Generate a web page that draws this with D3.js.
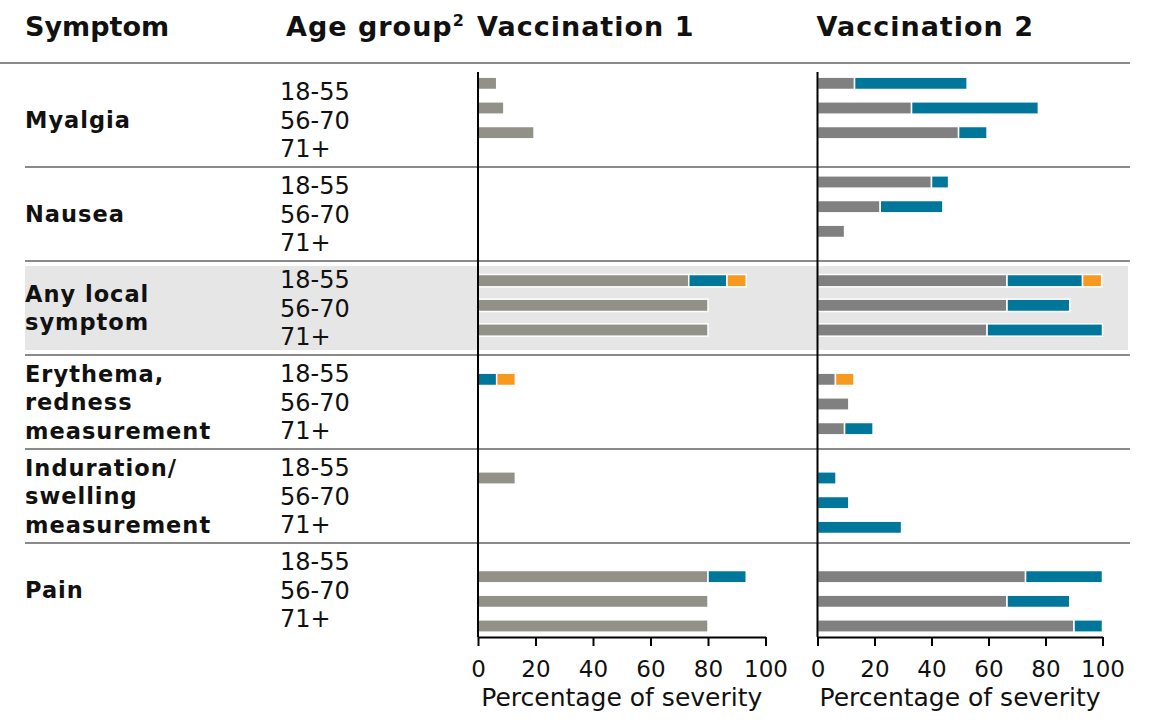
<!DOCTYPE html>
<html>
<head>
<meta charset="utf-8">
<script src="https://cdn.jsdelivr.net/npm/d3@7"></script>
<style>
  body { margin: 0; background: #fff; }
  text { font-family: "DejaVu Sans", sans-serif; fill: #111; }
</style>
</head>
<body>
<div id="wrapper"></div>
<script>
// data (percent of participants, stacked by severity)
const symptoms = ["Myalgia", "Nausea", "Any local symptom", "Erythema, redness measurement", "Induration/ swelling measurement", "Pain"]
const symptomLines = [["Myalgia"], ["Nausea"], ["Any local", "symptom"], ["Erythema,", "redness", "measurement"], ["Induration/", "swelling", "measurement"], ["Pain"]]
const ageGroups = ["18-55", "56-70", "71+"]
const severities = ["mild", "moderate", "severe"]
const highlighted = "Any local symptom"
const tickValues = [0, 20, 40, 60, 80, 100]
const panelTitles = ["Vaccination 1", "Vaccination 2"]

// one value per symptom x age group, in the order above
const dose1Mild     = [6.5, 9, 19.5,  0, 0, 0,  73.3, 80, 80,  0, 0, 0,  13, 0, 0,  80, 80, 80]
const dose1Moderate = [0, 0, 0,  0, 0, 0,  13.3, 0, 0,  6.5, 0, 0,  0, 0, 0,  13.3, 0, 0]
const dose1Severe   = [0, 0, 0,  0, 0, 0,  6.7, 0, 0,  6.5, 0, 0,  0, 0, 0,  0, 0, 0]

const dose2Mild     = [13, 33, 49.5,  40, 22, 9.5,  66.5, 66.5, 59.5,  6.3, 11, 9.5,  0, 0, 0,  73, 66.5, 90]
const dose2Moderate = [39.5, 44.5, 10,  6, 22, 0,  26.5, 22, 40.5,  0, 0, 10,  6.5, 11, 29.5,  27, 22, 10]
const dose2Severe   = [0, 0, 0,  0, 0, 0,  6.7, 0, 0,  6.5, 0, 0,  0, 0, 0,  0, 0, 0]

function drawChart() {

  // 1. Access data
  const toRows = (mild, moderate, severe) => mild.map((m, i) => ({
    symptom: symptoms[Math.floor(i / 3)],
    age: ageGroups[i % 3],
    slot: Math.floor(i / 3) * 4 + i % 3,
    mild: m, moderate: moderate[i], severe: severe[i],
  }))
  const panels = [
    { title: panelTitles[0], rows: toRows(dose1Mild, dose1Moderate, dose1Severe), mildColor: "#919187" },
    { title: panelTitles[1], rows: toRows(dose2Mild, dose2Moderate, dose2Severe), mildColor: "#808080" },
  ]

  // 2. Create chart dimensions
  const dimensions = {
    width: 1150,
    height: 727,
    headerY: 36,
    ruleY: 63,
    plotTop: 73,
    plotBottom: 637,
    lineLeft: 25,
    lineRight: 1130,
  }

  // 3. Draw canvas
  const wrapper = d3.select("#wrapper")
    .append("svg")
      .attr("width", dimensions.width)
      .attr("height", dimensions.height)

  // 4. Create scales
  const groupScale = d3.scaleBand()
    .domain(symptoms)
    .range([dimensions.plotTop, dimensions.plotBottom])

  // bars sit on 24 slots: 3 age rows + one empty slot per symptom
  const slotScale = d3.scaleBand()
    .domain(d3.range(24))
    .range([71, 663])
    .paddingInner(0.5)
    .paddingOuter(0.25)

  const xScales = [
    d3.scaleLinear().domain([0, 100]).range([478, 765.5]),
    d3.scaleLinear().domain([0, 100]).range([817.5, 1102.5]),
  ]

  const sevColor = { moderate: "#00779a", severe: "#f7991f" }

  const groupMid = s => groupScale(s) + groupScale.bandwidth() / 2

  // 5. Draw peripherals (background, rules, labels)
  wrapper.append("rect")
    .attr("x", dimensions.lineLeft)
    .attr("y", groupScale(highlighted) + 5)
    .attr("width", 1128 - dimensions.lineLeft)
    .attr("height", groupScale.bandwidth() - 10)
    .attr("fill", "#e6e6e6")

  wrapper.append("line")
    .attr("x1", 0).attr("x2", dimensions.lineRight)
    .attr("y1", dimensions.ruleY).attr("y2", dimensions.ruleY)
    .attr("stroke", "#8a8a8a").attr("stroke-width", 2)

  wrapper.append("g")
    .selectAll("line")
    .data(symptoms.slice(1))
    .join("line")
      .attr("x1", dimensions.lineLeft).attr("x2", dimensions.lineRight)
      .attr("y1", d => groupScale(d)).attr("y2", d => groupScale(d))
      .attr("stroke", "#8a8a8a").attr("stroke-width", 2)

  // headers
  const header = wrapper.append("g")
    .style("font-weight", "bold")
    .style("font-size", "27px")
  header.append("text").attr("x", 25).attr("y", dimensions.headerY).text("Symptom")
  const ageHeader = header.append("text")
    .attr("x", 286).attr("y", dimensions.headerY)
    .style("letter-spacing", "1px")
  ageHeader.append("tspan").text("Age group")
  ageHeader.append("tspan").attr("dy", -10).style("font-size", "16px").text("2")
  header.selectAll(".panel-title")
    .data(panels)
    .join("text")
      .attr("class", "panel-title")
      .attr("x", (d, i) => xScales[i](0) - 1)
      .attr("y", dimensions.headerY)
      .style("letter-spacing", "1px")
      .text(d => d.title)

  // symptom labels
  const symptomLabels = wrapper.append("g")
    .selectAll("text")
    .data(symptoms)
    .join("text")
      .style("font-weight", "bold")
      .style("font-size", "22.5px")
      .style("letter-spacing", "1px")
      .attr("x", 25)
  symptomLabels.selectAll("tspan")
    .data((d, i) => symptomLines[i].map((line, j, arr) => ({
      line, y: groupMid(d) + (j - (arr.length - 1) / 2) * 28.5 + 8,
    })))
    .join("tspan")
      .attr("x", 25)
      .attr("y", d => d.y)
      .text(d => d.line)

  // age group labels
  wrapper.append("g")
    .selectAll("text")
    .data(symptoms.flatMap(s => ageGroups.map((a, i) => ({ s, a, i }))))
    .join("text")
      .style("font-size", "24px")
      .attr("x", 280)
      .attr("y", d => groupMid(d.s) + (d.i - 1) * 28.5 + 8.5)
      .text(d => d.a)

  // 6. Draw data
  const stack = d3.stack().keys(severities)

  panels.forEach((panel, p) => {
    const x = xScales[p]
    const bounds = wrapper.append("g")
    const colorOf = key => key === "mild" ? panel.mildColor : sevColor[key]

    bounds.selectAll("g")
      .data(stack(panel.rows))
      .join("g")
        .attr("fill", d => colorOf(d.key))
      .selectAll("rect")
      .data(d => d.filter(seg => seg[1] - seg[0] > 0))
      .join("rect")
        .attr("x", d => x(d[0]))
        .attr("width", d => x(d[1]) - x(d[0]))
        .attr("y", d => slotScale(d.data.slot))
        .attr("height", slotScale.bandwidth())
        .attr("stroke", "#fff")
        .attr("stroke-width", 1.5)

    // vertical baseline
    bounds.append("line")
      .attr("x1", x(0)).attr("x2", x(0))
      .attr("y1", 72).attr("y2", dimensions.plotBottom)
      .attr("stroke", "#000").attr("stroke-width", 2)

    // x axis
    const axis = d3.axisBottom(x)
      .tickValues(tickValues)
      .tickSize(9)
      .tickSizeOuter(0)
      .tickPadding(15)
    const axisG = bounds.append("g")
      .attr("transform", `translate(0,${dimensions.plotBottom})`)
      .call(axis)
    axisG.select(".domain").attr("stroke", "#000").attr("stroke-width", 2)
    axisG.selectAll(".tick line").attr("stroke", "#000").attr("stroke-width", 2)
    axisG.selectAll(".tick text")
      .style("font-size", "23px")
      .style("font-family", "DejaVu Sans, sans-serif")
      .attr("fill", "#111")

    bounds.append("text")
      .attr("x", (x.range()[0] + x.range()[1]) / 2)
      .attr("y", 706)
      .attr("text-anchor", "middle")
      .style("font-size", "25px")
      .text("Percentage of severity")
  })
}

drawChart()
</script>
</body>
</html>
